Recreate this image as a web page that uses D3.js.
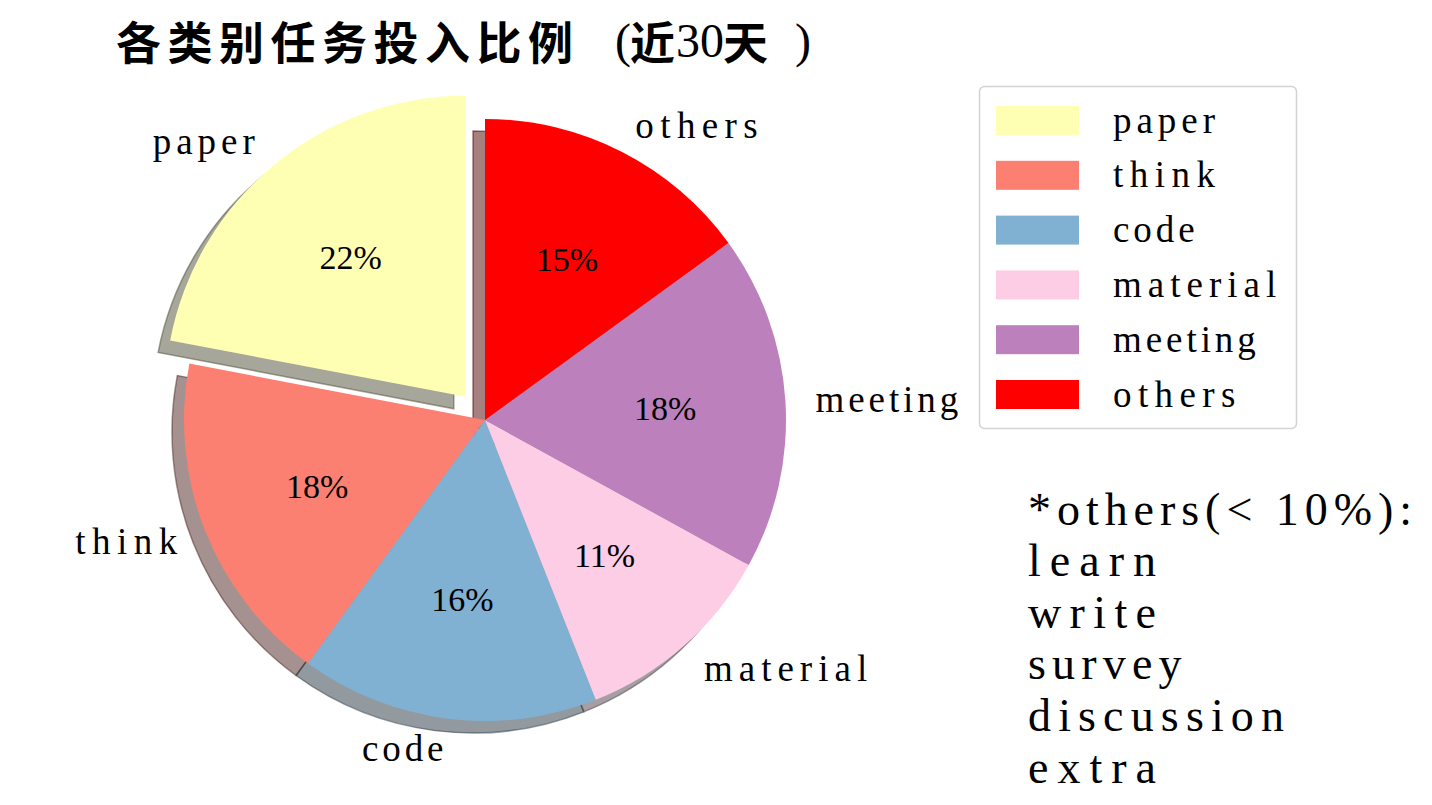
<!DOCTYPE html>
<html>
<head>
<meta charset="utf-8">
<script src="https://cdn.jsdelivr.net/npm/d3@7"></script>
<style>
  html, body { margin: 0; padding: 0; background: #fff; }
  svg { display: block; }
</style>
</head>
<body>
<svg id="chart" width="1432" height="805"></svg>
<script>
const categories = ["paper", "think", "code", "material", "meeting", "others"];
const values = [22, 18, 16, 11, 18, 15];
const colors = ["#ffffb3", "#fb8072", "#80b1d3", "#fccde5", "#bc80bd", "#ff0000"];
const explode = [0.1, 0, 0, 0, 0, 0];
const titleParts = ["各类别任务投入比例", " (", "近", "30", "天", ")"];
const noteLines = ["*others(< 10%):", "learn", "write", "survey", "discussion", "extra"];

const svg = d3.select("#chart");
const cx = 485, cy = 420, R = 301;
const serifFont = "'Liberation Serif', 'DejaVu Serif', serif";
const cjkFont = "'Noto Sans CJK SC', sans-serif";

// mono-like serif text: fixed advance per character
function monoText(sel, size, adv) {
  sel.attr("font-family", serifFont)
    .attr("font-size", size)
    .attr("lengthAdjust", "spacing")
    .attr("textLength", d => (typeof d === "string" ? d : d.label).length * adv);
}

// title (one text element, segments placed as tspans)
const title = svg.append("text")
  .attr("y", 40)
  .attr("dominant-baseline", "central")
  .attr("fill", "#000");
const tpos = [116, 603, 630, 676, 723, 795];
const tfont = [cjkFont, serifFont, cjkFont, serifFont, cjkFont, serifFont];
const tsize = [45, 48, 45, 48, 45, 48];
const tspace = [6.5, 0, 0, 0, 0, 0];
titleParts.forEach((p, i) => {
  title.append("tspan")
    .attr("x", tpos[i])
    .attr("font-family", tfont[i])
    .attr("font-size", tsize[i])
    .attr("font-weight", tfont[i] === cjkFont ? "bold" : "normal")
    .attr("letter-spacing", tspace[i])
    .text(p);
});

const pie = d3.pie().sort(null).value(d => d).startAngle(0).endAngle(-2 * Math.PI);
const arcs = pie(values);
arcs.forEach((d, i) => d.label = categories[i]);
const arc = d3.arc().innerRadius(0).outerRadius(R);

const g = svg.append("g").attr("transform", `translate(${cx},${cy})`);

function offsetOf(d, i) {
  const a = (d.startAngle + d.endAngle) / 2;
  const e = explode[i] * R;
  return [Math.sin(a) * e, -Math.cos(a) * e];
}

function shade(c) {
  const r = d3.rgb(c);
  return d3.rgb(r.r * 0.3, r.g * 0.3, r.b * 0.3).formatHex();
}

// shadows (below all wedges)
const shOff = 12;
g.selectAll("path.shadow").data(arcs).join("path")
  .attr("class", "shadow")
  .attr("d", arc)
  .attr("transform", (d, i) => { const o = offsetOf(d, i); return `translate(${o[0] - shOff},${o[1] + shOff})`; })
  .attr("fill", (d, i) => shade(colors[i]))
  .attr("fill-opacity", 0.5)
  .attr("stroke", (d, i) => shade(colors[i]))
  .attr("stroke-opacity", 0.5)
  .attr("stroke-width", 1.5);

// wedges
g.selectAll("path.wedge").data(arcs).join("path")
  .attr("class", "wedge")
  .attr("d", arc)
  .attr("transform", (d, i) => { const o = offsetOf(d, i); return `translate(${o[0]},${o[1]})`; })
  .attr("fill", (d, i) => colors[i]);

// outer labels
g.selectAll("text.lab").data(arcs).join("text")
  .attr("class", "lab")
  .each(function(d, i) {
    const a = (d.startAngle + d.endAngle) / 2;
    const o = offsetOf(d, i);
    const x = o[0] + Math.sin(a) * R * 1.1;
    const y = o[1] - Math.cos(a) * R * 1.1;
    d3.select(this).attr("x", x).attr("y", y)
      .attr("text-anchor", x < 0 ? "end" : "start");
  })
  .attr("dominant-baseline", "central")
  .attr("fill", "#000")
  .call(monoText, 37, 20.4)
  .text(d => d.label);

// percent labels
const total = d3.sum(values);
g.selectAll("text.pct").data(arcs).join("text")
  .attr("class", "pct")
  .each(function(d, i) {
    const a = (d.startAngle + d.endAngle) / 2;
    const o = offsetOf(d, i);
    d3.select(this)
      .attr("x", o[0] + Math.sin(a) * R * 0.6)
      .attr("y", o[1] - Math.cos(a) * R * 0.6);
  })
  .attr("text-anchor", "middle")
  .attr("dominant-baseline", "central")
  .attr("font-family", serifFont)
  .attr("font-size", 34)
  .attr("fill", "#000")
  .text(d => Math.round(d.value / total * 100) + "%");

// legend
const lg = svg.append("g").attr("transform", "translate(979,86)");
lg.append("rect")
  .attr("x", 0.5).attr("y", 0.5).attr("width", 317).attr("height", 342)
  .attr("rx", 5).attr("ry", 5)
  .attr("fill", "#fff").attr("fill-opacity", 0.8)
  .attr("stroke", "#d3d3d3").attr("stroke-width", 1.5);
const rowY = d3.scalePoint().domain(categories).range([34, 308]);
const items = lg.selectAll("g.item").data(categories).join("g")
  .attr("class", "item")
  .attr("transform", d => `translate(0,${rowY(d)})`);
items.append("rect")
  .attr("x", 17).attr("y", -14).attr("width", 83).attr("height", 29)
  .attr("fill", (d, i) => colors[i]);
items.append("text")
  .attr("x", 134).attr("y", 0)
  .attr("dominant-baseline", "central")
  .attr("fill", "#000")
  .call(monoText, 37, 20.4)
  .text(d => d);

// note text
const noteY = d3.scalePoint().domain(d3.range(noteLines.length)).range([509, 767]);
svg.selectAll("text.note").data(noteLines).join("text")
  .attr("class", "note")
  .attr("x", 1028)
  .attr("y", (d, i) => noteY(i))
  .attr("dominant-baseline", "central")
  .attr("fill", "#000")
  .call(monoText, 46, 25.6)
  .text(d => d);
</script>
</body>
</html>
